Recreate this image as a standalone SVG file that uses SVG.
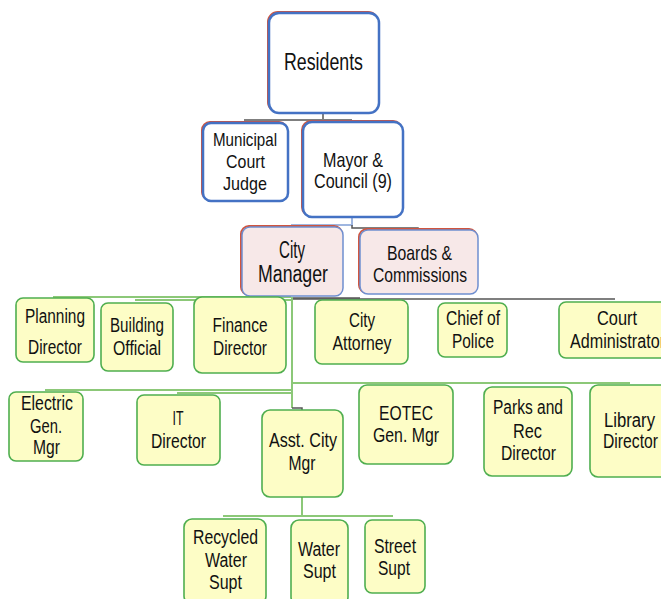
<svg xmlns="http://www.w3.org/2000/svg" width="661" height="599" viewBox="0 0 661 599">
<style>
.bl{fill:#fff;stroke:#4472c4;stroke-width:2.5}
.rd{fill:none;stroke:#d0553f;stroke-width:2}
.pk{fill:#f7e8e8;stroke:#6f8fd0;stroke-width:1.5}
.gr{fill:#fdfdc6;stroke:#4fae4f;stroke-width:1.6}
text{font-family:"Liberation Sans",Arial,sans-serif;fill:#111;text-anchor:middle;lengthAdjust:spacingAndGlyphs}
.t23{font-size:23px}.t21{font-size:21px}.t19{font-size:19px}.t20{font-size:20px}
.cg{stroke:#7f7f7f;stroke-width:2;fill:none}
.cgr{stroke:#8cc878;stroke-width:2;fill:none}
.cb{stroke:#9fb6e0;stroke-width:2;fill:none}
.cd{stroke:#555;stroke-width:1.5;fill:none}
</style>
<rect width="661" height="599" fill="#fff"/>
<g id="connectors">
<path class="cd" d="M323 113V120"/>
<path class="cg" d="M244 120H352"/>
<path class="cb" d="M352 217V225H292V229"/>
<path class="cd" d="M352 225V228H418V231"/>
<path class="cgr" d="M53 297H291"/>
<path class="cgr" d="M135 300H291"/>
<path class="cg" d="M291 299H615"/>
<path class="cd" d="M291 298H360"/>
<path class="cgr" d="M292 297V408"/>
<path class="cd" d="M292 408H302V411"/>
<path class="cgr" d="M45 390H292"/>
<path class="cgr" d="M177 393H292"/>
<path class="cgr" d="M292 383H630"/>
<path class="cgr" d="M302 497V516"/>
<path class="cgr" d="M223 516H393"/>
</g>
<g id="residents">
<rect class="rd" x="268" y="12" width="110" height="100" rx="10"/>
<rect class="bl" x="269" y="13" width="110" height="100" rx="10"/>
<text class="t23" x="323.5" y="70" textLength="79" lengthAdjust="spacingAndGlyphs">Residents</text>
</g>
<g id="judge">
<rect class="rd" x="202" y="122" width="85" height="78" rx="8"/>
<rect class="bl" x="203" y="123" width="85" height="78" rx="8"/>
<text class="t19" x="245" y="146" textLength="64" lengthAdjust="spacingAndGlyphs">Municipal</text>
<text class="t19" x="245.5" y="168" textLength="39" lengthAdjust="spacingAndGlyphs">Court</text>
<text class="t19" x="245" y="190" textLength="44" lengthAdjust="spacingAndGlyphs">Judge</text>
</g>
<g id="mayor">
<rect class="rd" x="302" y="121" width="100" height="95" rx="9"/>
<rect class="bl" x="303" y="122" width="100" height="95" rx="9"/>
<text class="t21" x="353" y="167" textLength="60" lengthAdjust="spacingAndGlyphs">Mayor &amp;</text>
<text class="t21" x="353" y="188" textLength="78" lengthAdjust="spacingAndGlyphs">Council (9)</text>
</g>
<g id="city-manager">
<rect class="rd" x="241" y="226" width="101" height="69" rx="8"/>
<rect class="pk" x="242" y="227" width="101" height="69" rx="8"/>
<text class="t23" x="292" y="258" textLength="26" lengthAdjust="spacingAndGlyphs">City</text>
<text class="t23" x="293" y="282" textLength="70" lengthAdjust="spacingAndGlyphs">Manager</text>
</g>
<g id="boards">
<rect class="rd" x="359" y="229" width="118" height="64" rx="8"/>
<rect class="pk" x="360" y="230" width="118" height="64" rx="8"/>
<text class="t21" x="419.5" y="260" textLength="65" lengthAdjust="spacingAndGlyphs">Boards &amp;</text>
<text class="t21" x="420" y="282" textLength="94" lengthAdjust="spacingAndGlyphs">Commissions</text>
</g>
<g id="planning">
<rect class="gr" x="16" y="298" width="78" height="64" rx="7"/>
<text class="t20" x="55" y="323" textLength="60" lengthAdjust="spacingAndGlyphs">Planning</text>
<text class="t20" x="55" y="354" textLength="54" lengthAdjust="spacingAndGlyphs">Director</text>
</g>
<g id="building">
<rect class="gr" x="101" y="303" width="72" height="68" rx="7"/>
<text class="t20" x="137" y="332" textLength="54" lengthAdjust="spacingAndGlyphs">Building</text>
<text class="t20" x="137" y="355" textLength="48" lengthAdjust="spacingAndGlyphs">Official</text>
</g>
<g id="finance">
<rect class="gr" x="194" y="297" width="92" height="76" rx="8"/>
<text class="t20" x="240" y="332" textLength="55" lengthAdjust="spacingAndGlyphs">Finance</text>
<text class="t20" x="240" y="355" textLength="54" lengthAdjust="spacingAndGlyphs">Director</text>
</g>
<g id="attorney">
<rect class="gr" x="315" y="300" width="93" height="64" rx="7"/>
<text class="t20" x="362" y="327" textLength="26" lengthAdjust="spacingAndGlyphs">City</text>
<text class="t20" x="362" y="350" textLength="59" lengthAdjust="spacingAndGlyphs">Attorney</text>
</g>
<g id="police">
<rect class="gr" x="438" y="303" width="69" height="54" rx="7"/>
<text class="t20" x="473" y="325" textLength="54" lengthAdjust="spacingAndGlyphs">Chief of</text>
<text class="t20" x="473" y="348" textLength="42" lengthAdjust="spacingAndGlyphs">Police</text>
</g>
<g id="court-admin">
<rect class="gr" x="559" y="302" width="110" height="56" rx="7"/>
<text class="t20" x="617" y="325" textLength="40" lengthAdjust="spacingAndGlyphs">Court</text>
<text class="t20" x="617.5" y="348" textLength="95" lengthAdjust="spacingAndGlyphs">Administrator</text>
</g>
<g id="electric">
<rect class="gr" x="9" y="392" width="74" height="69" rx="7"/>
<text class="t20" x="47" y="410" textLength="52" lengthAdjust="spacingAndGlyphs">Electric</text>
<text class="t20" x="46" y="433" textLength="32" lengthAdjust="spacingAndGlyphs">Gen.</text>
<text class="t20" x="46.5" y="454" textLength="27" lengthAdjust="spacingAndGlyphs">Mgr</text>
</g>
<g id="it">
<rect class="gr" x="137" y="395" width="83" height="70" rx="7"/>
<text class="t20" x="178" y="425" textLength="11" lengthAdjust="spacingAndGlyphs">IT</text>
<text class="t20" x="178.5" y="448" textLength="55" lengthAdjust="spacingAndGlyphs">Director</text>
</g>
<g id="asst-city-mgr">
<rect class="gr" x="262" y="410" width="81" height="87" rx="8"/>
<text class="t20" x="303" y="447" textLength="68" lengthAdjust="spacingAndGlyphs">Asst. City</text>
<text class="t20" x="302" y="470" textLength="27" lengthAdjust="spacingAndGlyphs">Mgr</text>
</g>
<g id="eotec">
<rect class="gr" x="359" y="385" width="94" height="79" rx="8"/>
<text class="t20" x="406" y="420" textLength="54" lengthAdjust="spacingAndGlyphs">EOTEC</text>
<text class="t20" x="406" y="442" textLength="66" lengthAdjust="spacingAndGlyphs">Gen. Mgr</text>
</g>
<g id="parks">
<rect class="gr" x="484" y="387" width="88" height="89" rx="8"/>
<text class="t20" x="528" y="414" textLength="70" lengthAdjust="spacingAndGlyphs">Parks and</text>
<text class="t20" x="527.5" y="438" textLength="29" lengthAdjust="spacingAndGlyphs">Rec</text>
<text class="t20" x="528.5" y="460" textLength="55" lengthAdjust="spacingAndGlyphs">Director</text>
</g>
<g id="library">
<rect class="gr" x="590" y="385" width="80" height="92" rx="8"/>
<text class="t20" x="629.5" y="427" textLength="51" lengthAdjust="spacingAndGlyphs">Library</text>
<text class="t20" x="630.5" y="448" textLength="55" lengthAdjust="spacingAndGlyphs">Director</text>
</g>
<g id="recycled">
<rect class="gr" x="184" y="519" width="82" height="85" rx="8"/>
<text class="t20" x="225.5" y="544" textLength="65" lengthAdjust="spacingAndGlyphs">Recycled</text>
<text class="t20" x="226" y="567" textLength="42" lengthAdjust="spacingAndGlyphs">Water</text>
<text class="t20" x="225.5" y="589" textLength="33" lengthAdjust="spacingAndGlyphs">Supt</text>
</g>
<g id="water">
<rect class="gr" x="291" y="520" width="57" height="85" rx="8"/>
<text class="t20" x="319" y="556" textLength="42" lengthAdjust="spacingAndGlyphs">Water</text>
<text class="t20" x="319.5" y="578" textLength="33" lengthAdjust="spacingAndGlyphs">Supt</text>
</g>
<g id="street">
<rect class="gr" x="365" y="520" width="60" height="73" rx="7"/>
<text class="t20" x="395" y="553" textLength="42" lengthAdjust="spacingAndGlyphs">Street</text>
<text class="t20" x="394" y="575" textLength="32" lengthAdjust="spacingAndGlyphs">Supt</text>
</g>
</svg>
